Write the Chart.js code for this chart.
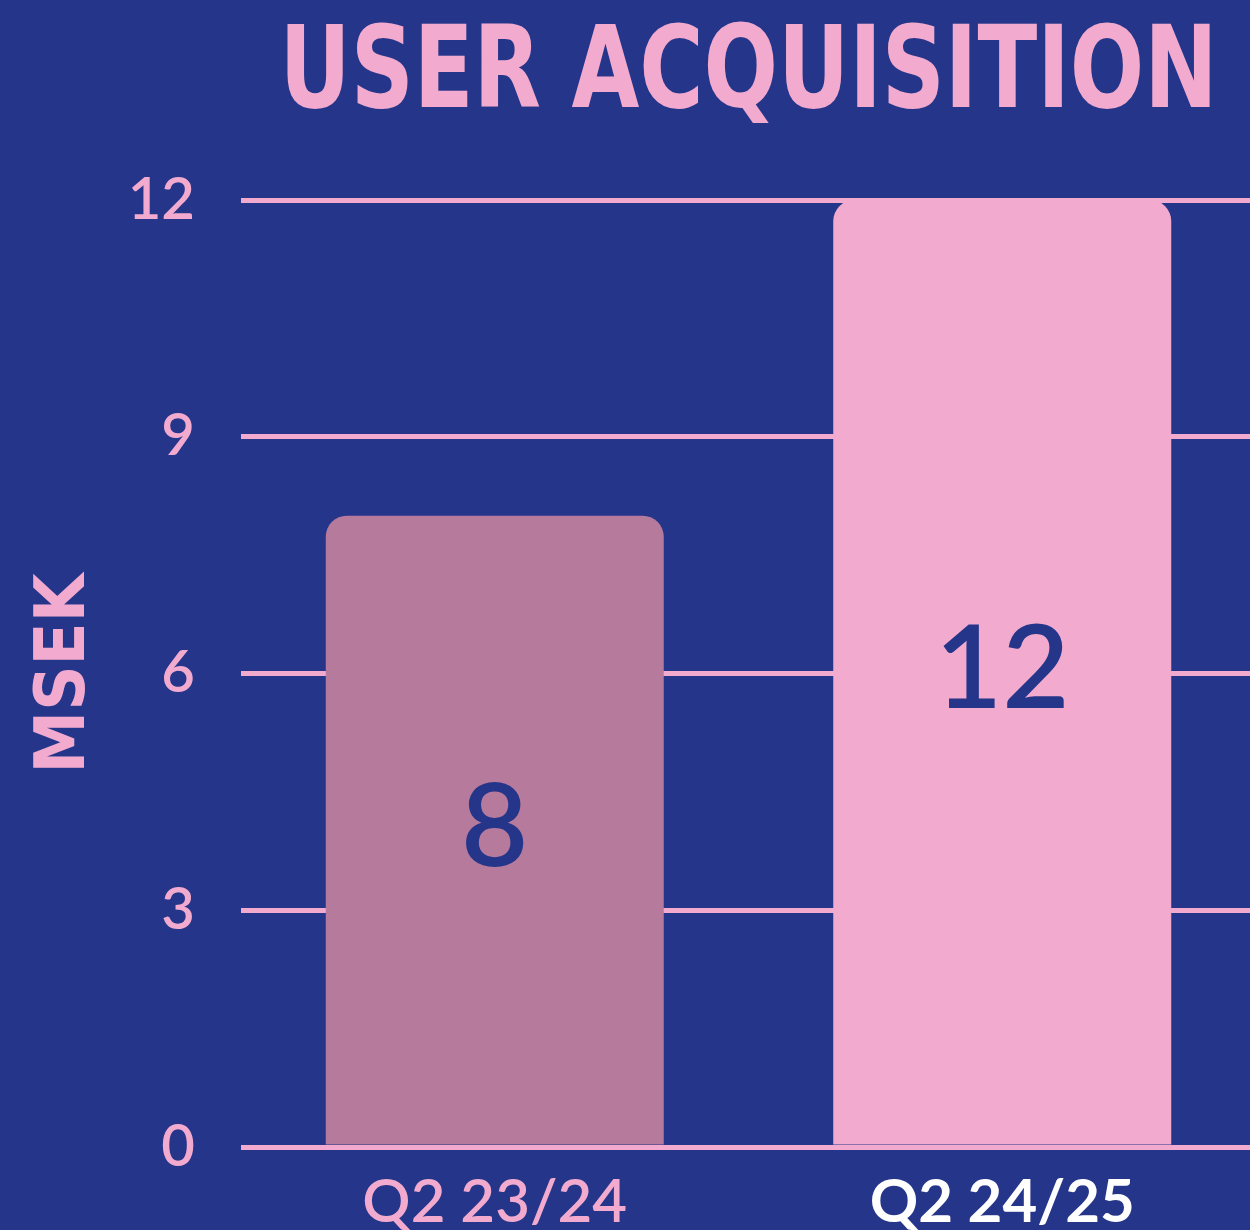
<!DOCTYPE html>
<html>
<head>
<meta charset="utf-8">
<script src="https://cdn.jsdelivr.net/npm/chart.js@4/dist/chart.umd.min.js"></script>
<style>
  html, body { margin: 0; padding: 0; background: #25358A; overflow: hidden; }
  #wrap { position: absolute; left: 0; top: 0; width: 1256px; height: 1230px; }
</style>
</head>
<body>
<div id="wrap"><canvas id="c"></canvas></div>
<script>
const categories = ['Q2 23/24', 'Q2 24/25'];
const values = [8, 12];
const yTicks = [0, 3, 6, 9, 12];
const chartTitle = 'USER ACQUISITION';
const yAxisTitle = 'MSEK';

const BG = '#25358A';
const PINK = '#F2ABCE';
const MAUVE = '#B57A9C';
const barColors = [MAUVE, PINK];
const tickLabelColors = [PINK, '#FFFFFF'];
const tickLabelWeights = ['600', 'bold'];
const TITLE_WIDTH = 938;

const titleFit = {
  id: 'titleFit',
  afterLayout(chart) {
    const t = chart.titleBlock;
    if (!t) return;
    const cx = (chart.chartArea.left + chart.chartArea.right) / 2;
    t.left = cx - TITLE_WIDTH / 2;
    t.right = cx + TITLE_WIDTH / 2;
    t.width = TITLE_WIDTH;
  }
};

const valueLabels = {
  id: 'valueLabels',
  afterDatasetsDraw(chart) {
    const ctx = chart.ctx;
    const meta = chart.getDatasetMeta(0);
    const size = 116;
    ctx.save();
    ctx.font = '600 ' + size + 'px Lato, "Open Sans", sans-serif';
    ctx.fillStyle = BG;
    ctx.textAlign = 'center';
    ctx.textBaseline = 'alphabetic';
    meta.data.forEach((bar, i) => {
      const mid = (bar.y + bar.base) / 2;
      ctx.fillText(String(chart.data.datasets[0].data[i]), bar.x, mid - 6 + 0.358 * size);
    });
    ctx.restore();
  }
};

new Chart(document.getElementById('c'), {
  type: 'bar',
  data: {
    labels: categories,
    datasets: [{
      data: values,
      backgroundColor: barColors,
      borderWidth: 0,
      borderRadius: 21,
      borderSkipped: 'start',
      barPercentage: 0.666,
      categoryPercentage: 1.0
    }]
  },
  options: {
    responsive: true,
    maintainAspectRatio: false,
    animation: false,
    layout: { padding: 0 },
    plugins: {
      legend: { display: false },
      tooltip: { enabled: false },
      title: {
        display: true,
        text: chartTitle,
        fullSize: false,
        align: 'center',
        color: PINK,
        font: { family: '"Liberation Sans Narrow", "DejaVu Sans Condensed", sans-serif', size: 114, weight: 'bold', lineHeight: 1 },
        padding: { top: 20, bottom: 66 }
      }
    },
    scales: {
      x: {
        grid: { display: false },
        border: { display: false },
        afterFit(scale) { scale.height = 83; },
        ticks: {
          padding: 18,
          color: (c) => tickLabelColors[c.index],
          font: (c) => ({ family: 'Lato, "Open Sans", sans-serif', size: 60, weight: tickLabelWeights[c.index], lineHeight: 1 })
        }
      },
      y: {
        min: 0,
        max: 12,
        afterFit(scale) { scale.width = 241; },
        afterBuildTicks(scale) { scale.ticks = yTicks.map(v => ({ value: v })); },
        grid: { color: PINK, lineWidth: 5, drawTicks: false },
        border: { display: false },
        ticks: {
          padding: 46,
          color: PINK,
          font: { family: 'Lato, "Open Sans", sans-serif', size: 58, weight: '600', lineHeight: 1 }
        },
        title: {
          display: true,
          text: yAxisTitle,
          color: PINK,
          font: { family: '"Liberation Sans Narrow", "DejaVu Sans Condensed", sans-serif', size: 70, weight: 'bold', lineHeight: 1 },
          padding: { top: 31, bottom: 0 }
        }
      }
    }
  },
  plugins: [titleFit, valueLabels]
});
</script>
</body>
</html>
